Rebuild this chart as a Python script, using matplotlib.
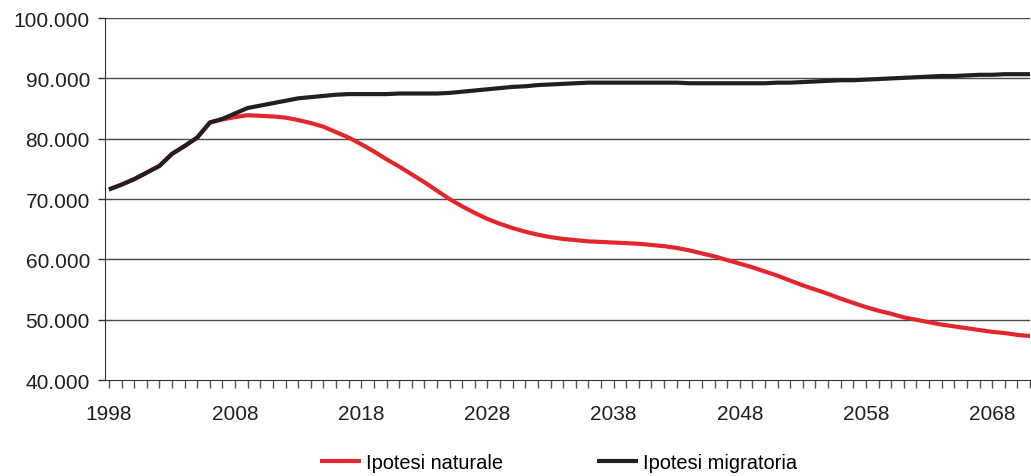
import matplotlib.pyplot as plt
from matplotlib.ticker import FuncFormatter, MultipleLocator

# Anni e valori delle due ipotesi
anni = list(range(1998, 2072))
etichette_anni = list(range(1998, 2069, 10))

ipotesi_migratoria = [
    71600, 72400, 73300, 74400, 75500, 77500, 78800, 80200, 82700, 83300,
    84200, 85100, 85500, 85900, 86300, 86700, 86900, 87100, 87300, 87400,
    87400, 87400, 87400, 87500, 87500, 87500, 87500, 87600, 87800, 88000,
    88200, 88400, 88600, 88700, 88900, 89000, 89100, 89200, 89300, 89300,
    89300, 89300, 89300, 89300, 89300, 89300, 89200, 89200, 89200, 89200,
    89200, 89200, 89200, 89300, 89300, 89400, 89500, 89600, 89700, 89700,
    89800, 89900, 90000, 90100, 90200, 90300, 90400, 90400, 90500, 90600,
    90600, 90700, 90700, 90700,
]

ipotesi_naturale = [
    71600, 72400, 73300, 74400, 75500, 77500, 78800, 80200, 82700, 83200,
    83600, 83900, 83800, 83700, 83500, 83100, 82600, 82000, 81100, 80200,
    79100, 77900, 76600, 75400, 74100, 72800, 71400, 70000, 68800, 67700,
    66700, 65900, 65200, 64600, 64100, 63700, 63400, 63200, 63000, 62900,
    62800, 62700, 62600, 62400, 62200, 61900, 61500, 61000, 60500, 59900,
    59300, 58700, 58000, 57300, 56500, 55700, 55000, 54300, 53500, 52800,
    52100, 51500, 51000, 50400, 50000, 49600, 49200, 48900, 48600, 48300,
    48000, 47800, 47500, 47300,
]

plt.rcParams['font.family'] = ['Liberation Sans', 'DejaVu Sans']

fig = plt.figure(figsize=(10.31, 4.77), dpi=100)
ax = fig.add_axes([0.102, 0.201, 0.897, 0.759])

# griglia orizzontale
for v in range(50000, 100001, 10000):
    ax.axhline(v, color='#4a4a4a', linewidth=1, zorder=1)

ax.plot(anni, ipotesi_naturale, color='#e3262b', linewidth=3, label='Ipotesi naturale',
        solid_capstyle='butt', zorder=3)
ax.plot(anni, ipotesi_migratoria, color='#231f20', linewidth=3, label='Ipotesi migratoria',
        solid_capstyle='butt', zorder=4)

ax.set_xlim(1997.7, 2071)
ax.set_ylim(40000, 100000)
ax.yaxis.set_major_locator(MultipleLocator(10000))
ax.yaxis.set_major_formatter(FuncFormatter(lambda v, p: f"{int(v):,}".replace(",", ".")))
ax.set_xticks(etichette_anni)
ax.set_xticklabels([str(a) for a in etichette_anni])
ax.xaxis.set_minor_locator(MultipleLocator(1))

for s in ['top', 'right']:
    ax.spines[s].set_visible(False)
ax.spines['left'].set_color('#333333')
ax.spines['bottom'].set_color('#333333')

ax.tick_params(axis='y', which='major', length=5, width=1, color='#333333',
               labelsize=15, pad=6, labelcolor='#231f20')
ax.tick_params(axis='x', which='both', length=6, width=1, color='#555555',
               labelsize=15, pad=11, labelcolor='#231f20')

fig.legend(loc='center', bbox_to_anchor=(0.542, 0.029), ncol=2, frameon=False,
           fontsize=14.4, handlelength=2.05, handletextpad=0.25, columnspacing=4.7)

fig.savefig('out.png', dpi=100)
